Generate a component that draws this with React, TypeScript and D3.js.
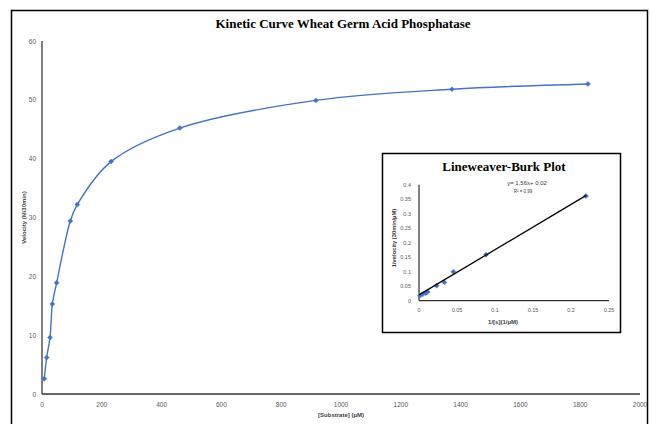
import React from "react";
import * as d3 from "d3";

// Michaelis-Menten kinetic data
const substrate = [7.7, 15.6, 26.8, 34.6, 49, 94.6, 118, 231, 461, 916, 1371, 1826];
const velocity = [2.6, 6.2, 9.6, 15.3, 18.9, 29.4, 32.2, 39.5, 45.2, 49.9, 51.8, 52.7];
const xTicks = [0, 200, 400, 600, 800, 1000, 1200, 1400, 1600, 1800, 2000];
const yTicks = [0, 10, 20, 30, 40, 50, 60];

// Lineweaver-Burk (double reciprocal) data
const invS = [0.0013, 0.0048, 0.0088, 0.0114, 0.0232, 0.0333, 0.0452, 0.0882, 0.2197];
const invV = [0.017, 0.022, 0.0255, 0.03, 0.0517, 0.0634, 0.1, 0.1587, 0.361];
const lbXTicks = [0, 0.05, 0.1, 0.15, 0.2, 0.25];
const lbYTicks = [0, 0.05, 0.1, 0.15, 0.2, 0.25, 0.3, 0.35, 0.4];
const slope = 1.56;
const intercept = 0.02;

const BLUE = "#4472C4";
const TICK = "#595959";
const SANS = "'Liberation Sans', Arial, sans-serif";
const SERIF = "'Liberation Serif', 'Times New Roman', serif";

export default function App() {
  const x = d3.scaleLinear().domain([0, 2000]).range([42, 640]);
  const y = d3.scaleLinear().domain([0, 60]).range([394, 41]);
  const pts: [number, number][] = substrate.map((s, i) => [x(s), y(velocity[i])]);
  const curve = d3.line().curve(d3.curveCatmullRom.alpha(0.5))(pts) || "";
  const diamond = d3.symbol().type(d3.symbolDiamond2).size(16)() || "";

  const lx = d3.scaleLinear().domain([0, 0.25]).range([419, 609]);
  const ly = d3.scaleLinear().domain([0, 0.4]).range([300.7, 184.7]);

  return (
    <svg width={650} height={424} style={{ position: "absolute", left: 0, top: 0, background: "#fff" }}>
      <rect x={11.5} y={10.5} width={636} height={420} fill="#fff" stroke="#000" strokeWidth={1.5} />
      <text x={343} y={27.5} textAnchor="middle" fontFamily={SERIF} fontWeight="bold" fontSize={13}>
        Kinetic Curve Wheat Germ Acid Phosphatase
      </text>

      {/* main axes */}
      <line x1={x(0)} x2={x(0)} y1={y(60)} y2={y(0)} stroke="#000" strokeWidth={1} />
      <line x1={x(0)} x2={x(2000)} y1={y(0)} y2={y(0)} stroke="#333" strokeWidth={1.5} />
      {yTicks.map((t) => (
        <text key={t} x={36} y={y(t) + 2.5} textAnchor="end" fontFamily={SANS} fontSize={6.5} fill={TICK}>
          {t}
        </text>
      ))}
      {xTicks.map((t) => (
        <text key={t} x={x(t)} y={407} textAnchor="middle" fontFamily={SANS} fontSize={6.5} fill={TICK}>
          {t}
        </text>
      ))}
      <text
        transform={`translate(26,${y(30)}) rotate(-90)`}
        textAnchor="middle"
        fontFamily={SANS}
        fontWeight="bold"
        fontSize={6}
        fill="#404040"
      >
        Velocity (M/30min)
      </text>
      <text x={341} y={417} textAnchor="middle" fontFamily={SANS} fontWeight="bold" fontSize={6} fill="#404040">
        [Substrate] (µM)
      </text>

      <path d={curve} fill="none" stroke={BLUE} strokeWidth={1.4} />
      {pts.map((p, i) => (
        <path key={i} d={diamond} transform={`translate(${p[0]},${p[1]})`} fill={BLUE} stroke={BLUE} strokeWidth={0.5} />
      ))}

      {/* Lineweaver-Burk inset */}
      <rect x={382.5} y={153.5} width={238} height={179} fill="#fff" stroke="#000" strokeWidth={1.5} />
      <text x={504} y={171} textAnchor="middle" fontFamily={SERIF} fontWeight="bold" fontSize={13}>
        Lineweaver-Burk Plot
      </text>
      <line x1={lx(0)} x2={lx(0)} y1={ly(0.4)} y2={ly(0)} stroke="#000" strokeWidth={1} />
      <line x1={lx(0)} x2={lx(0.25)} y1={ly(0)} y2={ly(0)} stroke="#333" strokeWidth={1.2} />
      {lbYTicks.map((t) => (
        <text key={t} x={411} y={ly(t) + 2} textAnchor="end" fontFamily={SANS} fontSize={5.5} fill={TICK}>
          {t}
        </text>
      ))}
      {lbXTicks.map((t) => (
        <text key={t} x={lx(t)} y={312} textAnchor="middle" fontFamily={SANS} fontSize={5.5} fill={TICK}>
          {t}
        </text>
      ))}
      <text
        transform={`translate(396,238) rotate(-90)`}
        textAnchor="middle"
        fontFamily={SANS}
        fontWeight="bold"
        fontSize={5.8}
        fill="#404040"
      >
        1/velocity (30min/µM)
      </text>
      <text x={503} y={324} textAnchor="middle" fontFamily={SANS} fontWeight="bold" fontSize={6} fill="#404040">
        1/[s](1/µM)
      </text>
      {invS.map((s, i) => (
        <path key={i} d={diamond} transform={`translate(${lx(s)},${ly(invV[i])})`} fill={BLUE} stroke={BLUE} strokeWidth={0.5} />
      ))}
      <line
        x1={lx(0)}
        y1={ly(intercept)}
        x2={lx(0.22)}
        y2={ly(slope * 0.22 + intercept)}
        stroke="#000"
        strokeWidth={1.3}
      />
      <text x={527} y={184.5} textAnchor="middle" fontFamily={SANS} fontSize={6} fill="#404040">
        y= 1.56x+ 0.02
      </text>
      <text x={523} y={192.5} textAnchor="middle" fontFamily={SANS} fontSize={4.5} fill="#404040">
        R² = 0.99
      </text>
    </svg>
  );
}
